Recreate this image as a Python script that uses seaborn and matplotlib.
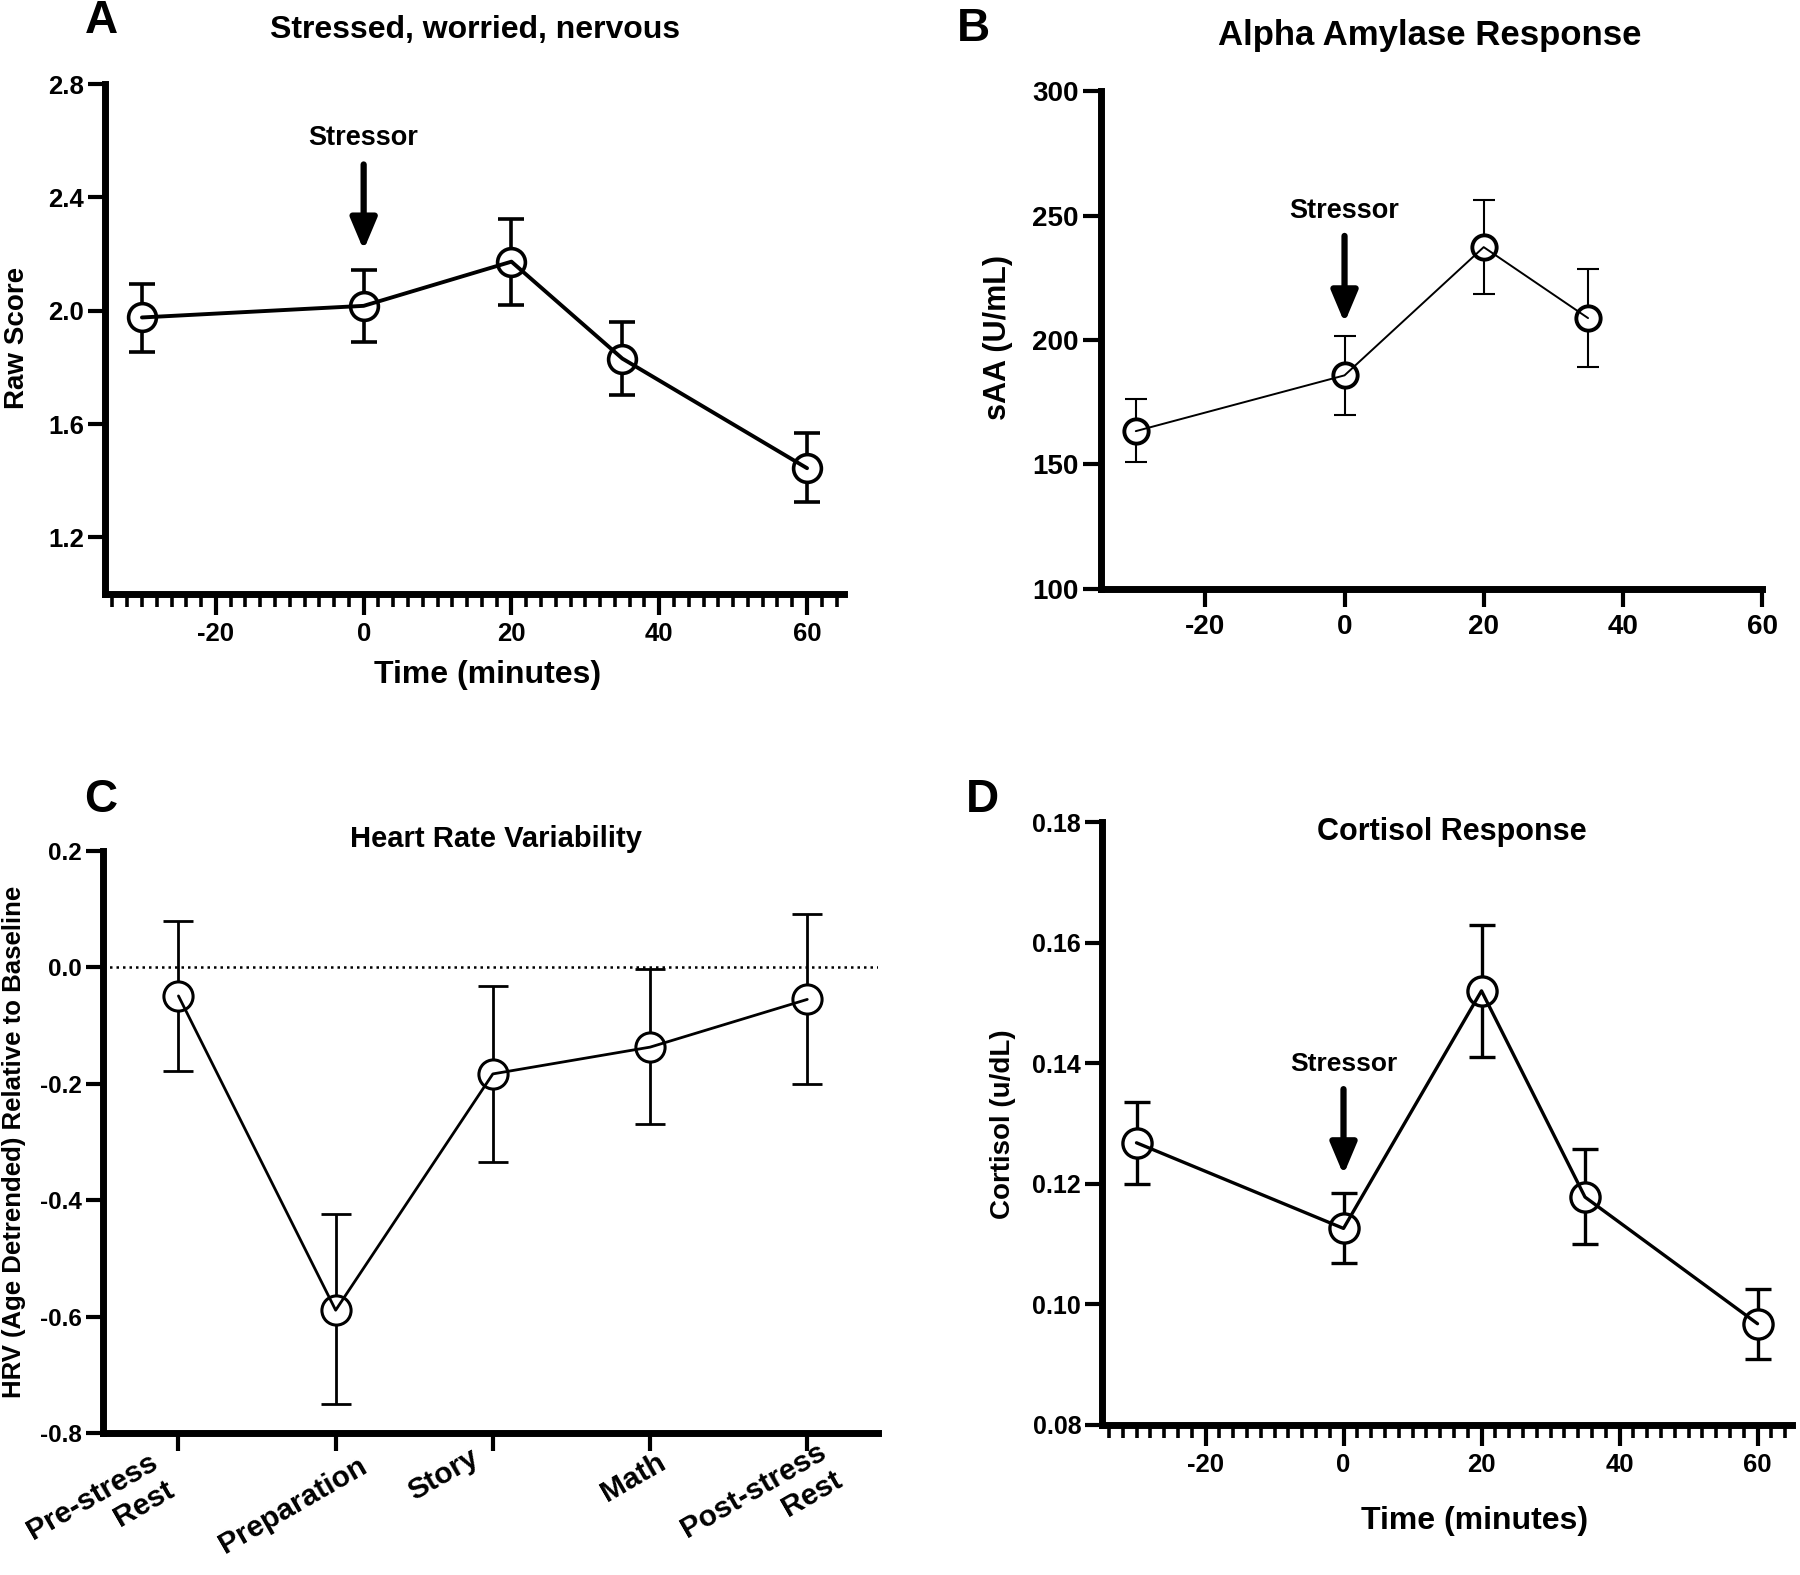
import numpy as np
import pandas as pd
import matplotlib
matplotlib.use("Agg")
import matplotlib.pyplot as plt
import seaborn as sns
import matplotlib.transforms as mtransforms
from matplotlib.ticker import FixedLocator, MultipleLocator, FormatStrFormatter

# ---------------- data ----------------
# A: Stressed, worried, nervous
a_time = [-30, 0, 20, 35, 60]
a_mean = [1.976, 2.017, 2.173, 1.831, 1.444]
a_low = [1.854, 1.889, 2.021, 1.703, 1.324]
a_high = [2.094, 2.143, 2.324, 1.960, 1.567]

# B: Alpha amylase
b_time = [-30, 0, 20, 35]
b_mean = [163.4, 185.8, 237.3, 208.8]
b_low = [150.9, 170.0, 218.6, 189.2]
b_high = [176.2, 201.7, 256.4, 228.4]

# C: Heart rate variability
c_labels = ["Pre-stress\nRest", "Preparation", "Story", "Math", "Post-stress\nRest"]
c_mean = [-0.049, -0.589, -0.183, -0.137, -0.055]
c_low = [-0.178, -0.751, -0.334, -0.269, -0.200]
c_high = [0.079, -0.424, -0.032, -0.003, 0.091]

# D: Cortisol
d_time = [-30, 0, 20, 35, 60]
d_mean = [0.1268, 0.1126, 0.1520, 0.1178, 0.0968]
d_low = [0.1200, 0.1068, 0.1410, 0.1100, 0.0909]
d_high = [0.1336, 0.1185, 0.1630, 0.1258, 0.1025]

# ---------------- style ----------------
sns.set_style("ticks")
plt.rcParams['font.family'] = ['Liberation Sans', 'DejaVu Sans']
plt.rcParams['font.weight'] = 'bold'
plt.rcParams['axes.unicode_minus'] = False
plt.rcParams['text.color'] = 'black'
plt.rcParams['axes.labelcolor'] = 'black'
plt.rcParams['xtick.color'] = 'black'
plt.rcParams['ytick.color'] = 'black'
plt.rcParams['axes.edgecolor'] = 'black'

W, H = 1800, 1575
fig = plt.figure(figsize=(W / 100, H / 100), dpi=100)


def add_ax(left, top, right, bottom):
    return fig.add_axes([left / W, 1 - bottom / H, (right - left) / W, (bottom - top) / H])


def style_ax(ax, labelsize_x, labelsize_y):
    sns.despine(ax=ax)
    for s in ['left', 'bottom']:
        ax.spines[s].set_linewidth(5)
        ax.spines[s].set_color('black')
    ax.tick_params(axis='both', which='major', width=3, length=12, color='black',
                   labelcolor='black', pad=3)
    ax.tick_params(axis='x', which='major', labelsize=labelsize_x, pad=5)
    ax.tick_params(axis='y', which='major', labelsize=labelsize_y)
    ax.tick_params(axis='both', which='minor', width=2.6, length=9.5, color='black')
    for lab in ax.get_xticklabels() + ax.get_yticklabels():
        lab.set_fontweight('bold')


def draw(ax, x, mean, low, high, lw, elw, cap, ms, mew):
    mean = np.asarray(mean)
    yerr = [mean - np.asarray(low), np.asarray(high) - mean]
    ax.errorbar(x, mean, yerr=yerr, fmt='none', ecolor='black', elinewidth=elw,
                capsize=cap, capthick=elw, zorder=2)
    sns.scatterplot(x=x, y=mean, ax=ax, s=ms ** 2, color='white', edgecolor='black',
                    linewidth=mew, zorder=3, legend=False)
    sns.lineplot(x=x, y=mean, ax=ax, color='black', lw=lw, zorder=4, legend=False)
    ax.set_xlabel('')
    ax.set_ylabel('')


def stressor(ax, ytext, ytail, ytip, fs=19.5):
    ax.text(0, ytext, 'Stressor', ha='center', va='center', fontsize=fs, fontweight='bold')
    ax.annotate('', xy=(0, ytip), xytext=(0, ytail),
                arrowprops=dict(arrowstyle='-|>,head_width=0.4,head_length=0.95',
                                lw=4.5, color='black', shrinkA=0, shrinkB=0,
                                mutation_scale=20))


# ---------------- Panel A ----------------
axA = add_ax(105, 84, 844, 594)
draw(axA, a_time, a_mean, a_low, a_high, lw=2.8, elw=2.6, cap=9.5, ms=20, mew=2.6)
axA.set_xlim(-35, 65)
axA.set_ylim(1.0, 2.8)
axA.xaxis.set_major_locator(FixedLocator([-20, 0, 20, 40, 60]))
axA.xaxis.set_minor_locator(MultipleLocator(2))
axA.yaxis.set_major_locator(FixedLocator([1.2, 1.6, 2.0, 2.4, 2.8]))
axA.yaxis.set_major_formatter(FormatStrFormatter('%.1f'))
style_ax(axA, 18.5, 18.5)
axA.tick_params(axis='x', which='major', length=15)
stressor(axA, 2.608, 2.516, 2.214)

# ---------------- Panel B ----------------
axB = add_ax(1101, 91, 1762, 589)
draw(axB, b_time, b_mean, b_low, b_high, lw=1.4, elw=1.5, cap=8, ms=17.5, mew=2.8)
axB.set_xlim(-35, 60)
axB.set_ylim(100, 300)
axB.xaxis.set_major_locator(FixedLocator([-20, 0, 20, 40, 60]))
axB.yaxis.set_major_locator(FixedLocator([100, 150, 200, 250, 300]))
style_ax(axB, 20, 20)
axB.tick_params(axis='both', which='major', length=13)
stressor(axB, 251.9, 241.8, 206.9)

# ---------------- Panel C ----------------
axC = add_ax(103, 851, 878, 1433)
cx = list(range(len(c_labels)))
axC.axhline(0, ls=(0, (1, 1.6)), lw=1.8, color='black', zorder=1)
draw(axC, cx, c_mean, c_low, c_high, lw=2.0, elw=2.0, cap=10.5, ms=21, mew=2.2)
axC.set_xlim(-0.48, 4.45)
axC.set_ylim(-0.8, 0.2)
axC.yaxis.set_major_locator(FixedLocator([-0.8, -0.6, -0.4, -0.2, 0.0, 0.2]))
axC.yaxis.set_major_formatter(FormatStrFormatter('%.1f'))
axC.set_xticks(cx)
axC.set_xticklabels(c_labels)
style_ax(axC, 21.5, 17.5)
axC.tick_params(axis='x', which='major', length=13)
# per-label nudges (px right, px up), as placed in the reference
c_nudge = [(-30, 10), (22, 6), (-24, 14), (6, 10), (10, 20)]
for lab, (dx, dy) in zip(axC.get_xticklabels(), c_nudge):
    lab.set_rotation(30)
    lab.set_ha('right')
    lab.set_va('top')
    lab.set_rotation_mode('anchor')
    lab.set_multialignment('right')
    lab.set_fontweight('bold')
    shift = mtransforms.ScaledTranslation(dx / 100, dy / 100, fig.dpi_scale_trans)
    lab.set_transform(lab.get_transform() + shift)

# ---------------- Panel D ----------------
axD = add_ax(1102, 822, 1792, 1425)
draw(axD, d_time, d_mean, d_low, d_high, lw=2.4, elw=2.4, cap=9.5, ms=21, mew=2.4)
axD.set_xlim(-35, 65)
axD.set_ylim(0.08, 0.18)
axD.xaxis.set_major_locator(FixedLocator([-20, 0, 20, 40, 60]))
axD.xaxis.set_minor_locator(MultipleLocator(2))
axD.yaxis.set_major_locator(FixedLocator([0.08, 0.10, 0.12, 0.14, 0.16, 0.18]))
axD.yaxis.set_major_formatter(FormatStrFormatter('%.2f'))
style_ax(axD, 18.5, 18)
axD.tick_params(axis='x', which='major', length=15)
stressor(axD, 0.1398, 0.1357, 0.1215, fs=19)

# ---------------- texts ----------------
def ftext(x, y, s, **kw):
    kw.setdefault('ha', 'center')
    kw.setdefault('va', 'center')
    fig.text(x / W, 1 - y / H, s, fontweight='bold', color='black', **kw)

# panel letters
ftext(101, 21, 'A', fontsize=33)
ftext(973, 29, 'B', fontsize=33)
ftext(101, 800, 'C', fontsize=33)
ftext(982, 800, 'D', fontsize=33)

# titles
ftext(475, 30, 'Stressed, worried, nervous', fontsize=23)
ftext(1430, 36, 'Alpha Amylase Response', fontsize=25)
ftext(496, 839, 'Heart Rate Variability', fontsize=21)
ftext(1452, 832, 'Cortisol Response', fontsize=22)

# axis labels
ftext(17, 338, 'Raw Score', fontsize=20, rotation=90)
ftext(488, 675, 'Time (minutes)', fontsize=23)
ftext(998, 338, 'sAA (U/mL)', fontsize=22, rotation=90)
ftext(14, 1142, 'HRV (Age Detrended) Relative to Baseline', fontsize=18.5, rotation=90)
ftext(1003, 1124, 'Cortisol (u/dL)', fontsize=20, rotation=90)
ftext(1475, 1521, 'Time (minutes)', fontsize=23)

fig.savefig('out.png', dpi=100, facecolor='white')
